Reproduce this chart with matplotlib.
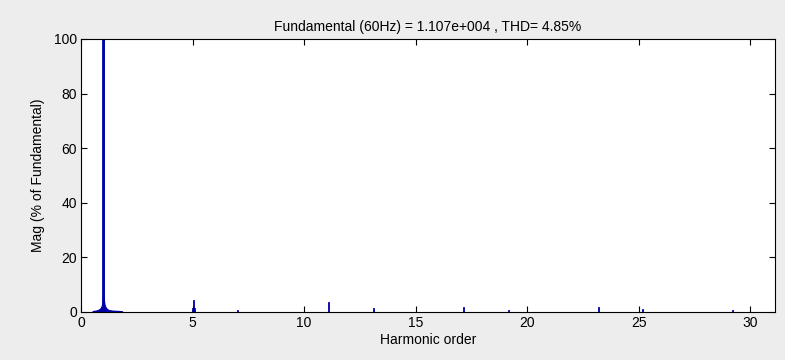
import matplotlib
matplotlib.use("Agg")
import matplotlib.pyplot as plt

plt.rcParams['font.family'] = ['Liberation Sans', 'DejaVu Sans']

# FFT spectrum, harmonic order vs magnitude in % of fundamental
# leakage skirt around the fundamental
fund_orders = [0.5, 0.55, 0.65, 0.75, 0.82, 0.88, 0.92, 0.95, 0.975, 0.99, 1.0,
               1.01, 1.025, 1.05, 1.08, 1.12, 1.18, 1.26, 1.36, 1.5, 1.65, 1.8,
               1.85]
fund_mags = [0.0, 0.3, 0.4, 0.6, 0.9, 1.4, 2.0, 2.8, 4.5, 6.0, 100.0,
             6.0, 4.5, 2.8, 2.0, 1.4, 0.9, 0.6, 0.45, 0.35, 0.3, 0.2,
             0.0]

# higher harmonics
orders = [5.0, 5.05, 5.1, 7.02, 11.1, 13.1, 17.12, 19.16, 23.17, 25.17, 29.2]
mags = [1.5, 4.3, 1.2, 0.8, 3.7, 1.5, 1.7, 0.8, 1.7, 1.0, 0.8]

fund_hz = 60
fund_mag = "1.107e+004"
thd = 4.85

navy = '#0000a8'

fig = plt.figure(figsize=(7.85, 3.6), dpi=100, facecolor='#ededed')
ax = fig.add_axes([0.1032, 0.1342, 0.8841, 0.7575])
ax.set_facecolor('white')

ax.fill_between(fund_orders, fund_mags, color=navy, linewidth=0.8,
                edgecolor=navy)
ax.vlines(1.0, 0, 100, color=navy, linewidth=2)
ax.bar(orders, mags, width=0.045, color=navy, edgecolor=navy, linewidth=0.6)

ax.set_xlim(0, 31.1)
ax.set_ylim(0, 100)
ax.set_xticks(range(0, 31, 5))
ax.set_yticks(range(0, 101, 20))
ax.tick_params(direction='in', length=4, width=0.8, top=True, right=True,
               labelsize=10, pad=3)
for s in ax.spines.values():
    s.set_linewidth(0.8)

ax.set_title(f"Fundamental ({fund_hz}Hz) = {fund_mag} , THD= {thd:.2f}%",
             fontsize=10, pad=6)
ax.set_xlabel("Harmonic order", fontsize=10, labelpad=2)
ax.set_ylabel("Mag (% of Fundamental)", fontsize=10, labelpad=6)

fig.savefig("out.png", dpi=100, facecolor=fig.get_facecolor())
